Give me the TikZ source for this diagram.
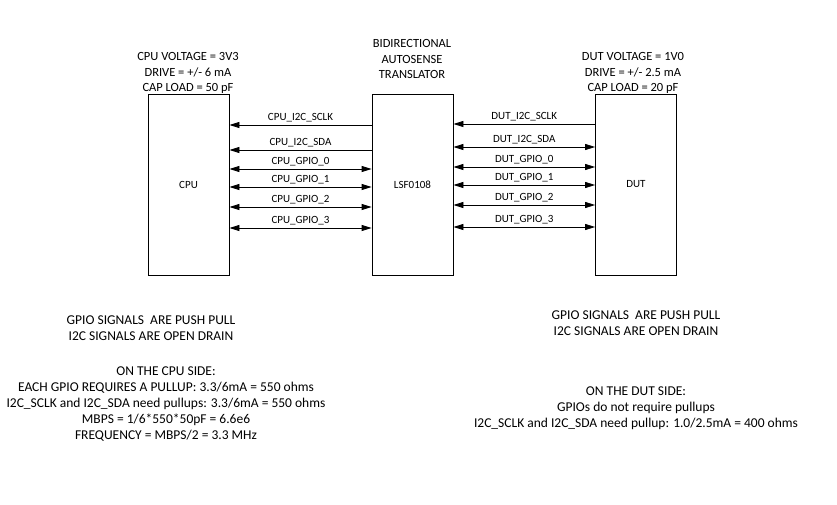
\documentclass[tikz,border=0pt]{standalone}
\usepackage{fontspec}
\setmainfont{Carlito}
\usetikzlibrary{arrows.meta,calc}
\begin{document}
\begin{tikzpicture}[x=1pt,y=-1pt,
  blk/.style={draw,line width=0.8pt,minimum width=81pt,minimum height=181pt,inner sep=0pt,font=\fontsize{11}{12}\selectfont},
  sig/.style={line width=0.8pt},
  tip/.style={-{Triangle[length=10pt,width=6pt]}},
  bi/.style={{Triangle[length=10pt,width=6pt]}-{Triangle[length=10pt,width=6pt]}},
  lbl/.style={font=\fontsize{11}{12}\selectfont,inner sep=0pt,anchor=base},
  note/.style={font=\fontsize{13.5}{16}\selectfont,align=center,inner sep=0pt},
  head/.style={font=\fontsize{12.5}{15.5}\selectfont,align=center,inner sep=0pt}]
\useasboundingbox (0,0) rectangle (837,505);
\node[blk] (cpu) at (188.5,184.5) {CPU};
\node[blk] (lsf) at (412.5,184.5) {LSF0108};
\node[blk] (dut) at (636,184.5) {DUT};
% heading texts
\node[head,anchor=south] (hcpu) at (188,94) {CPU VOLTAGE = 3V3\\DRIVE = +/- 6 mA\\CAP LOAD = 50 pF};
\node[head,anchor=south] (hlsf) at (412,79) {BIDIRECTIONAL\\AUTOSENSE\\TRANSLATOR};
\node[head,anchor=south] (hdut) at (633,94) {DUT VOLTAGE = 1V0\\DRIVE = +/- 2.5 mA\\CAP LOAD = 20 pF};
% y levels
\coordinate (c1) at (0,125);
\coordinate (c2) at (0,150);
\coordinate (c3) at (0,169);
\coordinate (c4) at (0,187);
\coordinate (c5) at (0,207);
\coordinate (c6) at (0,228);
\coordinate (d1) at (0,124);
\coordinate (d2) at (0,147);
\coordinate (d3) at (0,167);
\coordinate (d4) at (0,185);
\coordinate (d5) at (0,205);
\coordinate (d6) at (0,227);
% CPU side
\draw[sig,tip] (lsf.west |- c1) -- node[lbl,above=3pt] {CPU\_I2C\_SCLK} (cpu.east |- c1);
\draw[sig,tip] (lsf.west |- c2) -- node[lbl,above=3pt] {CPU\_I2C\_SDA} (cpu.east |- c2);
\draw[sig,bi] (cpu.east |- c3) -- node[lbl,above=3pt] {CPU\_GPIO\_0} (lsf.west |- c3);
\draw[sig,bi] (cpu.east |- c4) -- node[lbl,above=3pt] {CPU\_GPIO\_1} (lsf.west |- c4);
\draw[sig,bi] (cpu.east |- c5) -- node[lbl,above=3pt] {CPU\_GPIO\_2} (lsf.west |- c5);
\draw[sig,bi] (cpu.east |- c6) -- node[lbl,above=3pt] {CPU\_GPIO\_3} (lsf.west |- c6);
% DUT side
\draw[sig,tip] (dut.west |- d1) -- node[lbl,above=3pt] {DUT\_I2C\_SCLK} (lsf.east |- d1);
\draw[sig,bi] (lsf.east |- d2) -- node[lbl,above=3pt] {DUT\_I2C\_SDA} (dut.west |- d2);
\draw[sig,bi] (lsf.east |- d3) -- node[lbl,above=3pt] {DUT\_GPIO\_0} (dut.west |- d3);
\draw[sig,bi] (lsf.east |- d4) -- node[lbl,above=3pt] {DUT\_GPIO\_1} (dut.west |- d4);
\draw[sig,bi] (lsf.east |- d5) -- node[lbl,above=3pt] {DUT\_GPIO\_2} (dut.west |- d5);
\draw[sig,bi] (lsf.east |- d6) -- node[lbl,above=3pt] {DUT\_GPIO\_3} (dut.west |- d6);
% notes
\node[note] (n1) at (151,328) {GPIO SIGNALS\ \ ARE PUSH PULL\\I2C SIGNALS ARE OPEN DRAIN};
\node[note] (n2) at (166,404) {ON THE CPU SIDE:\\EACH GPIO REQUIRES A PULLUP: 3.3/6mA = 550 ohms\\I2C\_SCLK and I2C\_SDA need pullups: 3.3/6mA = 550 ohms\\MBPS = 1/6*550*50pF = 6.6e6\\FREQUENCY = MBPS/2 = 3.3 MHz};
\node[note] (n3) at (636,323) {GPIO SIGNALS\ \ ARE PUSH PULL\\I2C SIGNALS ARE OPEN DRAIN};
\node[note] (n4) at (636,408) {ON THE DUT SIDE:\\GPIOs do not require pullups\\I2C\_SCLK and I2C\_SDA need pullup: 1.0/2.5mA = 400 ohms};
\end{tikzpicture}
\end{document}
